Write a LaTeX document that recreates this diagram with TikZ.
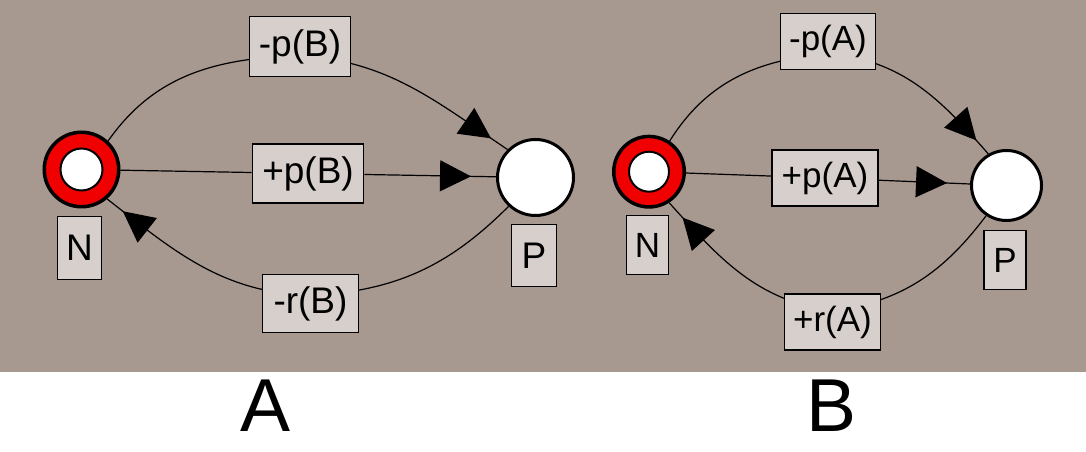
\documentclass[tikz,border=0pt]{standalone}
\usepackage{fontspec}
\setmainfont{Liberation Sans}
\usetikzlibrary{arrows.meta,decorations.markings}
\definecolor{panelbg}{RGB}{167,152,144}
\definecolor{tagfill}{RGB}{214,207,203}
\definecolor{ringred}{RGB}{240,0,0}
\pgfdeclarelayer{backdrop}
\pgfdeclarelayer{arcs}
\pgfsetlayers{backdrop,arcs,main}

\begin{document}
\begin{tikzpicture}[x=1pt,y=1pt,
  tag/.style={draw=black, fill=tagfill, line width=1.6pt, inner sep=0pt},
  bigtxt/.style={font=\fontsize{37}{40}\selectfont},
  smalltxt/.style={font=\fontsize{35}{38}\selectfont},
  place/.style={circle, draw=black, fill=white, line width=3pt, inner sep=0pt},
  ring/.style={circle, draw=black, fill=ringred, line width=3.5pt, inner sep=0pt},
  hole/.style={circle, draw=black, fill=white, line width=2pt, inner sep=0pt},
  arc/.style={line width=1.2pt, black},
  tipped/.style={postaction={decorate},
    decoration={markings, mark=at position -#1 with {\arrow{Triangle[length=31pt,width=31pt]}}}},
  caption/.style={font=\fontsize{75}{80}\selectfont, anchor=base, inner sep=0pt},
]
\useasboundingbox (0,0) rectangle (1086,452);

\begin{pgfonlayer}{backdrop}
  \fill[white] (0,0) rectangle (1086,452);
  \fill[panelbg] (0,80) rectangle (1086,452);
\end{pgfonlayer}

% ---------- net A ----------
\node[ring, minimum size=74.5pt] (Na) at (81.5,282.5) {};
\node[hole, minimum size=42pt] (Nah) at (Na) {};
\node[tag, bigtxt, minimum width=44pt, minimum height=63pt] (Nal) at (79.5,204) {N};
\node[place, minimum size=76pt] (Pa) at (535.5,274.5) {};
\node[tag, bigtxt, minimum width=45pt, minimum height=62pt] (Pal) at (534,196.5) {P};
\node[tag, bigtxt, minimum width=101pt, minimum height=60pt] (ta1) at (300,405.5) {-p(B)};
\node[tag, bigtxt, minimum width=111pt, minimum height=59pt] (ta2) at (308,278.5) {+p(B)};
\node[tag, bigtxt, minimum width=96pt, minimum height=58pt] (ta3) at (310.5,148.5) {-r(B)};

\begin{pgfonlayer}{arcs}
  \draw[arc] (Na.47) to[out=55,in=182] ([yshift=-9pt]ta1.center);
  \draw[arc, tipped=20pt] ([yshift=-9pt]ta1.center) to[out=-4,in=146] (Pa.135);
  \draw[arc] (Na) -- (ta2);
  \draw[arc, tipped=25pt] (ta2) -- (Pa);
  \draw[arc] (Pa.227) to[out=225,in=3] ([yshift=8pt]ta3.center);
  \draw[arc, tipped=20pt] ([yshift=8pt]ta3.center) to[out=178,in=322] (Na.311);
\end{pgfonlayer}

% ---------- net B ----------
\node[ring, minimum size=70.5pt] (Nb) at (649,280.3) {};
\node[hole, minimum size=40pt] (Nbh) at (Nb) {};
\node[tag, smalltxt, minimum width=42pt, minimum height=59pt] (Nbl) at (647.5,207) {N};
\node[place, minimum size=70pt] (Pb) at (1006.5,266.5) {};
\node[tag, smalltxt, minimum width=42pt, minimum height=59pt] (Pbl) at (1005,192) {P};
\node[tag, smalltxt, minimum width=95pt, minimum height=56pt] (tb1) at (828,410.3) {-p(A)};
\node[tag, smalltxt, minimum width=106pt, minimum height=56pt] (tb2) at (825,274) {+p(A)};
\node[tag, smalltxt, minimum width=96pt, minimum height=56pt] (tb3) at (832.5,130) {+r(A)};

\begin{pgfonlayer}{arcs}
  \draw[arc] (Nb.56) to[out=58,in=185] ([yshift=-12pt]tb1.center);
  \draw[arc, tipped=18pt] ([yshift=-12pt]tb1.center) to[out=-5,in=131] (Pb.120);
  \draw[arc] (Nb) -- (tb2);
  \draw[arc, tipped=23pt] (tb2) -- (Pb);
  \draw[arc] (Pb.236) to[out=233,in=8] ([yshift=11pt]tb3.center);
  \draw[arc, tipped=20pt] ([yshift=11pt]tb3.center) to[out=172,in=312] (Nb.303);
\end{pgfonlayer}

% ---------- captions ----------
\node[caption] (capA) at (266,20.5) {A};
\node[caption] (capB) at (831,20.5) {B};
\end{tikzpicture}
\end{document}
